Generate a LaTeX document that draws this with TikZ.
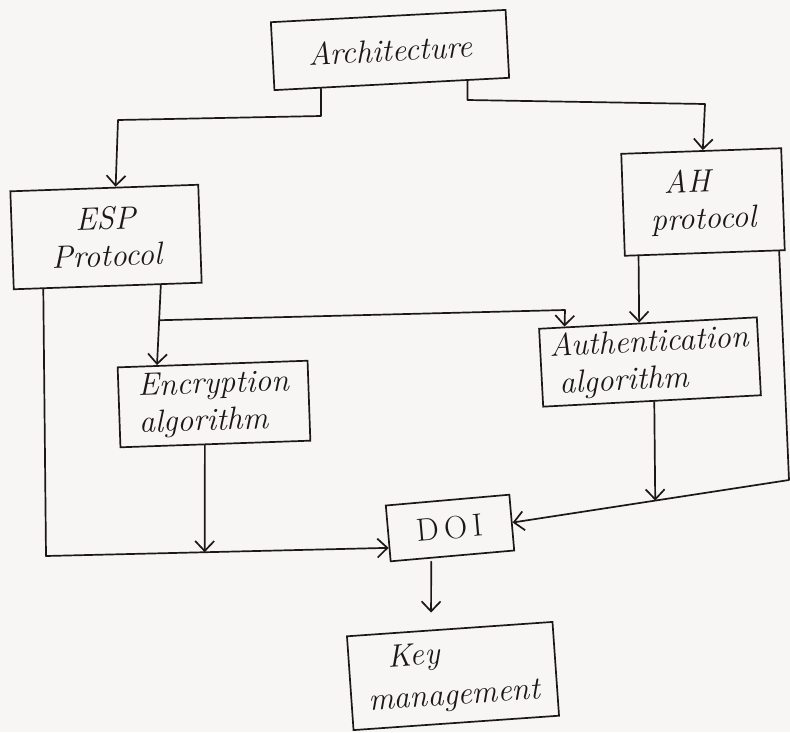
\documentclass[tikz,border=0pt]{standalone}
\usetikzlibrary{arrows.meta,calc}
\definecolor{paper}{RGB}{247,246,244}
\definecolor{ink}{RGB}{28,24,24}
\begin{document}
\begin{tikzpicture}[x=1pt,y=-1pt,
  box/.style={draw=ink, text=ink, line width=1.7pt, inner sep=0pt,
    font=\fontsize{32}{37}\selectfont\itshape},
  link/.style={draw=ink, line width=1.7pt, line join=round, line cap=round},
  arr/.style={link, -{Straight Barb[length=10pt,width=19pt,line width=1.7pt]}}]
\fill[paper] (0,0) rectangle (790,732);
\useasboundingbox (0,0) rectangle (790,732);

% boxes
\node[box, minimum width=235pt, minimum height=68pt, rotate=3] (arch) at (390,50) {Architecture};
\node[box, minimum width=188pt, minimum height=98pt, rotate=2, align=center] (esp) at (106,237) {ESP\\Protocol};
\node[box, minimum width=160pt, minimum height=102pt, rotate=2, align=left] (ah) at (703,202) {\hspace{14pt}AH\\protocol};
\node[box, minimum width=190pt, minimum height=80pt, rotate=2, align=left] (enc) at (214,404) {Encryption\\algorithm};
\node[box, minimum width=218pt, minimum height=78pt, rotate=3, align=left] (auth) at (650,362) {Authentication\\\hspace{8pt}algorithm};
\node[box, minimum width=124pt, minimum height=56pt, rotate=5, font=\fontsize{32}{36}\selectfont\upshape] (doi) at (450,528) {D\,O\,I};
\node[box, minimum width=206pt, minimum height=94pt, rotate=4, align=left, font=\fontsize{32}{42}\selectfont\itshape] (key) at (453,676) {\hspace{22pt}Key\\management};

% Architecture -> ESP Protocol
\coordinate (a0) at ($(arch.south west)!0.2!(arch.south east)$);
\coordinate (a1) at (a0 |- 0,116);
\coordinate (a2) at (118,120);
\draw[arr] (a0) -- (a1) -- (a2) -- ($(esp.north west)!0.56!(esp.north east)$);

% Architecture -> AH protocol
\coordinate (b0) at ($(arch.south west)!0.82!(arch.south east)$);
\coordinate (b1) at (b0 |- 0,100);
\coordinate (b2) at (705,104);
\draw[arr] (b0) -- (b1) -- (b2) -- ($(ah.north west)!0.51!(ah.north east)$);

% ESP Protocol -> DOI (outer left path)
\coordinate (e0) at ($(esp.south west)!0.16!(esp.south east)$);
\coordinate (e1) at (46,556);
\coordinate (d1) at ($(doi.south west)!0.25!(doi.north west)$);
\draw[arr] (e0) -- (e1) -- (d1);

% ESP Protocol -> Encryption algorithm
\coordinate (e2) at ($(esp.south west)!0.78!(esp.south east)$);
\coordinate (t1) at ($(enc.north west)!0.21!(enc.north east)$);
\draw[arr] (e2) -- (t1);

% ESP Protocol -> Authentication algorithm
\coordinate (j1) at ($(e2)!0.44!(t1)$);
\coordinate (j1b) at (565,310);
\draw[arr] (j1) -- (j1b) -- ($(auth.north west)!0.12!(auth.north east)$);

% AH protocol -> Authentication algorithm
\coordinate (h0) at ($(ah.south west)!0.09!(ah.south east)$);
\draw[arr] (h0) -- ($(auth.north west)!0.46!(auth.north east)$);

% AH protocol -> DOI (outer right path)
\coordinate (h2) at ($(ah.south west)!0.96!(ah.south east)$);
\coordinate (r1) at (789,480);
\draw[arr] (h2) -- (r1) -- (doi.east);

% Authentication algorithm -> right path
\coordinate (j2) at ($(r1)!0.484!(doi.east)$);
\draw[arr] ($(auth.south west)!0.51!(auth.south east)$) -- (j2);

% Encryption algorithm -> left path
\coordinate (j3) at ($(e1)!0.463!(d1)$);
\draw[arr] ($(enc.south west)!0.445!(enc.south east)$) -- (j3);

% DOI -> Key management
\coordinate (k0) at ($(doi.south west)!0.33!(doi.south east)$);
\draw[arr, shorten <=3pt, shorten >=17pt] (k0) -- ($(key.north west)!0.41!(key.north east)$);
\end{tikzpicture}
\end{document}
